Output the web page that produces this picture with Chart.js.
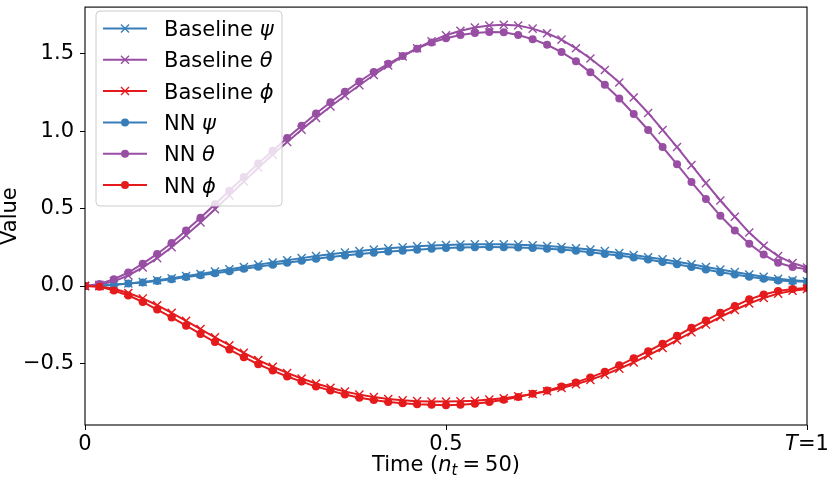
<!DOCTYPE html>
<html>
<head>
<meta charset="utf-8">
<script src="https://cdn.jsdelivr.net/npm/chart.js@4.4.1/dist/chart.umd.min.js"></script>
<style>
  html, body { margin: 0; padding: 0; background: #ffffff; }
  #wrap { width: 830px; height: 479px; }
</style>
</head>
<body>
<div id="wrap"><canvas id="trajChart" width="830" height="479"></canvas></div>
<script>
// Time grid (n_t = 50)
const times = [
  0, 0.02, 0.04, 0.06, 0.08, 0.1, 0.12, 0.14, 0.16, 0.18,
  0.2, 0.22, 0.24, 0.26, 0.28, 0.3, 0.32, 0.34, 0.36, 0.38,
  0.4, 0.42, 0.44, 0.46, 0.48, 0.5, 0.52, 0.54, 0.56, 0.58,
  0.6, 0.62, 0.64, 0.66, 0.68, 0.7, 0.72, 0.74, 0.76, 0.78,
  0.8, 0.82, 0.84, 0.86, 0.88, 0.9, 0.92, 0.94, 0.96, 0.98,
  1.0,
];

// Baseline solution
const baselinePsi = [
  0, 0.002, 0.008, 0.016, 0.026, 0.037, 0.05, 0.064, 0.078, 0.093,
  0.108, 0.123, 0.138, 0.152, 0.166, 0.18, 0.193, 0.205, 0.216, 0.226,
  0.235, 0.243, 0.25, 0.256, 0.261, 0.265, 0.268, 0.27, 0.27, 0.269,
  0.267, 0.263, 0.258, 0.252, 0.244, 0.235, 0.225, 0.213, 0.2, 0.186,
  0.172, 0.156, 0.14, 0.123, 0.106, 0.09, 0.074, 0.06, 0.047, 0.037,
  0.03,
];
const baselineTheta = [
  0, 0.008, 0.03, 0.068, 0.12, 0.18, 0.25, 0.328, 0.41, 0.496,
  0.585, 0.675, 0.763, 0.848, 0.93, 1.008, 1.085, 1.158, 1.228, 1.296,
  1.362, 1.424, 1.482, 1.535, 1.58, 1.618, 1.647, 1.668, 1.681, 1.686,
  1.681, 1.661, 1.631, 1.59, 1.534, 1.468, 1.394, 1.313, 1.217, 1.117,
  1.007, 0.897, 0.78, 0.664, 0.552, 0.447, 0.345, 0.26, 0.193, 0.148,
  0.119,
];
const baselinePhi = [
  0, -0.002, -0.018, -0.045, -0.08, -0.124, -0.173, -0.225, -0.278, -0.331,
  -0.382, -0.431, -0.478, -0.521, -0.561, -0.597, -0.629, -0.657, -0.681, -0.701,
  -0.717, -0.729, -0.738, -0.743, -0.746, -0.746, -0.744, -0.74, -0.733, -0.724,
  -0.712, -0.697, -0.679, -0.658, -0.634, -0.606, -0.572, -0.534, -0.493, -0.448,
  -0.4, -0.35, -0.299, -0.249, -0.2, -0.155, -0.113, -0.077, -0.049, -0.03,
  -0.019,
];

// NN solution
const nnPsi = [
  0, 0.002, 0.008, 0.016, 0.023, 0.032, 0.044, 0.058, 0.07, 0.083,
  0.096, 0.111, 0.125, 0.138, 0.15, 0.163, 0.176, 0.187, 0.197, 0.206,
  0.214, 0.222, 0.228, 0.234, 0.24, 0.245, 0.248, 0.25, 0.251, 0.25,
  0.248, 0.246, 0.241, 0.235, 0.227, 0.218, 0.207, 0.197, 0.184, 0.171,
  0.155, 0.14, 0.123, 0.106, 0.089, 0.074, 0.06, 0.047, 0.036, 0.03,
  0.028,
];
const nnTheta = [
  0, 0.013, 0.044, 0.087, 0.144, 0.207, 0.277, 0.358, 0.44, 0.527,
  0.615, 0.704, 0.79, 0.873, 0.955, 1.035, 1.113, 1.186, 1.254, 1.32,
  1.381, 1.434, 1.485, 1.532, 1.572, 1.599, 1.62, 1.633, 1.64, 1.637,
  1.62, 1.593, 1.557, 1.51, 1.451, 1.379, 1.299, 1.21, 1.11, 1.007,
  0.897, 0.785, 0.671, 0.561, 0.453, 0.358, 0.273, 0.203, 0.15, 0.123,
  0.108,
];
const nnPhi = [
  0, -0.004, -0.029, -0.061, -0.103, -0.152, -0.203, -0.256, -0.309, -0.362,
  -0.41, -0.459, -0.505, -0.546, -0.584, -0.617, -0.649, -0.675, -0.7, -0.721,
  -0.736, -0.749, -0.757, -0.763, -0.766, -0.769, -0.767, -0.76, -0.748, -0.734,
  -0.717, -0.696, -0.675, -0.649, -0.622, -0.59, -0.554, -0.512, -0.467, -0.421,
  -0.372, -0.321, -0.27, -0.222, -0.173, -0.129, -0.086, -0.055, -0.032, -0.019,
  -0.013,
];

// Axis ticks
const xTickValues = [0, 0.5, 1];
const xTickLabels = ["0", "0.5", "T=1"];
const yTickValues = [-0.5, 0, 0.5, 1.0, 1.5];

const FONT = "'DejaVu Sans', sans-serif";
const FONT_SIZE = 21;
const BLUE = "#377eb8";
const PURPLE = "#984ea3";
const RED = "#e41a1c";

function toPoints(values) {
  return values.map((v, i) => ({ x: times[i], y: v }));
}

function baselineSet(label, values, color, order) {
  return {
    label: label,
    data: toPoints(values),
    borderColor: color,
    backgroundColor: color,
    borderWidth: 2,
    pointStyle: "crossRot",
    pointRadius: 5.7,
    pointBorderWidth: 1.4,
    pointBorderColor: color,
    tension: 0,
    order: order,
  };
}

function nnSet(label, values, color, order) {
  return {
    label: label,
    data: toPoints(values),
    borderColor: color,
    backgroundColor: color,
    borderWidth: 2,
    pointStyle: "circle",
    pointRadius: 4,
    pointBorderWidth: 0,
    pointBackgroundColor: color,
    tension: 0,
    order: order,
  };
}

// draws text pieces one after another (some italic, some smaller)
function drawMixed(ctx, parts, x, y, size) {
  let cx = x;
  parts.forEach((p) => {
    ctx.font = (p.italic ? "italic " : "") + (p.size || size) + "px " + FONT;
    ctx.fillText(p.text, cx, y + (p.dy || 0));
    cx += ctx.measureText(p.text).width + (p.gap || 0);
  });
  return cx - x;
}

function mixedWidth(ctx, parts, size) {
  let w = 0;
  parts.forEach((p) => {
    ctx.font = (p.italic ? "italic " : "") + (p.size || size) + "px " + FONT;
    w += ctx.measureText(p.text).width + (p.gap || 0);
  });
  return w;
}

const frameAndText = {
  id: "frameAndText",
  afterDatasetsDraw(chart) {
    const { ctx, chartArea: a } = chart;
    ctx.save();
    ctx.strokeStyle = "#000000";
    ctx.lineWidth = 1.1;
    ctx.strokeRect(a.left, a.top, a.right - a.left, a.bottom - a.top);
    ctx.restore();
  },
  afterDraw(chart) {
    const { ctx, chartArea: a } = chart;
    const xs = chart.scales.x;
    ctx.save();
    ctx.fillStyle = "#000000";
    ctx.textBaseline = "alphabetic";
    ctx.textAlign = "left";

    // x tick labels
    xTickValues.forEach((v, i) => {
      const label = xTickLabels[i];
      const px = xs.getPixelForValue(v);
      let parts;
      if (label.startsWith("T")) {
        parts = [{ text: "T", italic: true }, { text: label.slice(1) }];
      } else {
        parts = [{ text: label }];
      }
      const w = mixedWidth(ctx, parts, FONT_SIZE);
      drawMixed(ctx, parts, px - w / 2, a.bottom + 25, FONT_SIZE);
    });

    // x axis title: Time (n_t = 50)
    const titleParts = [
      { text: "Time (" },
      { text: "n", italic: true },
      { text: "t", italic: true, size: 15, dy: 4, gap: 5 },
      { text: "=", gap: 5 },
      { text: "50" },
      { text: ")" },
    ];
    const tw = mixedWidth(ctx, titleParts, FONT_SIZE);
    const cx = (a.left + a.right) / 2;
    drawMixed(ctx, titleParts, cx - tw / 2, 471, FONT_SIZE);

    // legend
    const lx = 96, ly = 11, lw = 186, lh = 195, r = 4;
    ctx.beginPath();
    ctx.moveTo(lx + r, ly);
    ctx.lineTo(lx + lw - r, ly);
    ctx.quadraticCurveTo(lx + lw, ly, lx + lw, ly + r);
    ctx.lineTo(lx + lw, ly + lh - r);
    ctx.quadraticCurveTo(lx + lw, ly + lh, lx + lw - r, ly + lh);
    ctx.lineTo(lx + r, ly + lh);
    ctx.quadraticCurveTo(lx, ly + lh, lx, ly + lh - r);
    ctx.lineTo(lx, ly + r);
    ctx.quadraticCurveTo(lx, ly, lx + r, ly);
    ctx.closePath();
    ctx.fillStyle = "rgba(255,255,255,0.8)";
    ctx.fill();
    ctx.strokeStyle = "#cccccc";
    ctx.lineWidth = 1;
    ctx.stroke();

    chart.data.datasets.forEach((ds, i) => {
      const y = 28.5 + i * 31.3;
      ctx.strokeStyle = ds.borderColor;
      ctx.fillStyle = ds.borderColor;
      ctx.lineWidth = 2;
      ctx.beginPath();
      ctx.moveTo(103, y);
      ctx.lineTo(147, y);
      ctx.stroke();
      if (ds.pointStyle === "crossRot") {
        const d = 4;
        ctx.lineWidth = 1.4;
        ctx.beginPath();
        ctx.moveTo(125 - d, y - d);
        ctx.lineTo(125 + d, y + d);
        ctx.moveTo(125 - d, y + d);
        ctx.lineTo(125 + d, y - d);
        ctx.stroke();
      } else {
        ctx.beginPath();
        ctx.arc(125, y, 4, 0, Math.PI * 2);
        ctx.fill();
      }
      const sp = ds.label.lastIndexOf(" ");
      ctx.fillStyle = "#000000";
      drawMixed(
        ctx,
        [
          { text: ds.label.slice(0, sp + 1) },
          { text: ds.label.slice(sp + 1), italic: true },
        ],
        164,
        y + 7.6,
        FONT_SIZE
      );
    });
    ctx.restore();
  },
};

const ctxTraj = document.getElementById("trajChart").getContext("2d");
let trajChart = new Chart(ctxTraj, {
  type: "line",
  data: {
    datasets: [
      baselineSet("Baseline ψ", baselinePsi, BLUE, 6),
      baselineSet("Baseline θ", baselineTheta, PURPLE, 5),
      baselineSet("Baseline ϕ", baselinePhi, RED, 4),
      nnSet("NN ψ", nnPsi, BLUE, 3),
      nnSet("NN θ", nnTheta, PURPLE, 2),
      nnSet("NN ϕ", nnPhi, RED, 1),
    ],
  },
  options: {
    responsive: false,
    animation: false,
    devicePixelRatio: 1,
    layout: { padding: { top: 1, right: 23, left: 0, bottom: 0 } },
    plugins: {
      legend: { display: false },
      tooltip: { enabled: false },
    },
    scales: {
      x: {
        type: "linear",
        min: 0,
        max: 1,
        afterBuildTicks(scale) {
          scale.ticks = xTickValues.map((v) => ({ value: v }));
        },
        afterFit(scale) {
          scale.height = 54;
          scale.paddingLeft = 0;
          scale.paddingRight = 0;
        },
        ticks: { display: false },
        grid: {
          drawOnChartArea: false,
          drawTicks: true,
          tickLength: 5,
          tickColor: "#000000",
          tickWidth: 1,
        },
        border: { display: false },
      },
      y: {
        type: "linear",
        min: -0.897,
        max: 1.8,
        afterBuildTicks(scale) {
          scale.ticks = yTickValues.map((v) => ({ value: v }));
        },
        afterFit(scale) {
          scale.width = 85;
          scale.paddingTop = 0;
          scale.paddingBottom = 0;
        },
        ticks: {
          color: "#000000",
          padding: 6,
          font: { family: FONT, size: FONT_SIZE },
          callback: (v) => (v < 0 ? "\u2212" + Math.abs(v).toFixed(1) : v.toFixed(1)),
        },
        grid: {
          drawOnChartArea: false,
          drawTicks: true,
          tickLength: 5,
          tickColor: "#000000",
          tickWidth: 1,
        },
        border: { display: false },
        title: {
          display: true,
          text: "Value",
          color: "#000000",
          padding: 0,
          font: { family: FONT, size: FONT_SIZE, lineHeight: 1 },
        },
      },
    },
  },
  plugins: [frameAndText],
});
</script>
</body>
</html>
